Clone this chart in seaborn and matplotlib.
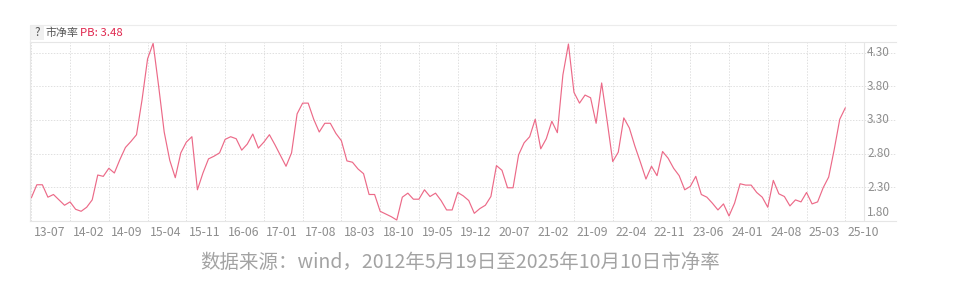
import numpy as np
import pandas as pd
import matplotlib
matplotlib.use("Agg")
import matplotlib.pyplot as plt
import matplotlib.transforms as mtransforms
from matplotlib.lines import Line2D
from matplotlib.patches import Rectangle
import seaborn as sns

# ---------------- data ----------------
start_month = "2013-07-01"
pb_values = [
    2.14, 2.335, 2.335, 2.15, 2.19, 2.11, 2.03, 2.08, 1.97, 1.94,
    2.00, 2.11, 2.48, 2.46, 2.58, 2.51, 2.71, 2.89, 2.98, 3.08,
    3.60, 4.21, 4.44, 3.80, 3.12, 2.70, 2.44, 2.81, 2.97, 3.05,
    2.26, 2.51, 2.72, 2.76, 2.81, 3.01, 3.05, 3.02, 2.85, 2.94,
    3.09, 2.88, 2.97, 3.08, 2.93, 2.77, 2.61, 2.81, 3.39, 3.55,
    3.55, 3.31, 3.12, 3.25, 3.25, 3.10, 2.99, 2.69, 2.67, 2.57,
    2.50, 2.19, 2.19, 1.94, 1.90, 1.86, 1.81, 2.15, 2.21, 2.12,
    2.12, 2.26, 2.16, 2.21, 2.10, 1.96, 1.96, 2.22, 2.17, 2.10,
    1.91, 1.98, 2.03, 2.16, 2.62, 2.55, 2.29, 2.29, 2.78, 2.96,
    3.05, 3.31, 2.87, 3.02, 3.28, 3.11, 3.97, 4.43, 3.71, 3.55,
    3.67, 3.63, 3.25, 3.85, 3.28, 2.68, 2.82, 3.33, 3.18, 2.91,
    2.67, 2.42, 2.61, 2.47, 2.83, 2.73, 2.58, 2.47, 2.26, 2.31,
    2.46, 2.19, 2.15, 2.06, 1.96, 2.05, 1.87, 2.06, 2.35, 2.33,
    2.33, 2.22, 2.15, 2.00, 2.40, 2.20, 2.16, 2.02, 2.11, 2.08,
    2.22, 2.05, 2.08, 2.29, 2.45, 2.86, 3.31, 3.48,
]
tick_every_months = 7
y_ticks = [1.80, 2.30, 2.80, 3.30, 3.80, 4.30]
header_name = "市净率"
header_value = "PB: 3.48"
caption = "数据来源：wind，2012年5月19日至2025年10月10日市净率"

dates = pd.date_range(start_month, periods=len(pb_values), freq="MS")
df = pd.DataFrame({"idx": np.arange(len(pb_values)), "pb": pb_values, "date": dates})
tick_idx = list(range(0, len(pb_values), tick_every_months))
tick_labels = [dates[i].strftime("%y-%m") for i in tick_idx]

# ---------------- style ----------------
sns.set_theme(style="white")
plt.rcParams["font.family"] = ["Noto Sans CJK SC", "DejaVu Sans"]

W, H = 966, 300
fig = plt.figure(figsize=(W / 100, H / 100), dpi=100)

def fx(px):
    return px / W

def fy(py):
    return 1 - py / H

left_px, right_px, top_px, bot_px = 30, 896, 41.7, 221
ax = fig.add_axes([fx(left_px), fy(bot_px), fx(right_px - left_px), (bot_px - top_px) / H])

line_color = "#ec6a88"
sns.lineplot(data=df, x="idx", y="pb", ax=ax, color=line_color, linewidth=0.85)

# scales: month 0 at px 31.3, month 147 at px 845.3
ppm = (845.3 - 31.3) / (len(pb_values) - 1)
x0 = -(31.3 - left_px) / ppm
x1 = (len(pb_values) - 1) + (right_px - 845.3) / ppm
ax.set_xlim(x0, x1)
y_per_px = 0.5 / 33.5
ylo = 1.80 - (bot_px - 220.7) * y_per_px
yhi = 4.30 + (52.7 - top_px) * y_per_px
ax.set_ylim(ylo, yhi)

grid_color = "#e0e0e0"
ax.set_xticks(tick_idx)
ax.set_xticklabels(tick_labels)
ax.set_yticks(y_ticks)
ax.set_yticklabels([])
ax.grid(True, color=grid_color, linestyle=(0, (1.5, 1.5)), linewidth=0.7)
ax.tick_params(axis="both", length=0)
ax.tick_params(axis="x", pad=3.5, labelsize=8.8, labelcolor="#8e8e8e")
ax.set_xlabel("")
ax.set_ylabel("")

offset = mtransforms.ScaledTranslation(2.5 / 100, 0, fig.dpi_scale_trans)
for lab in ax.get_xticklabels():
    lab.set_horizontalalignment("left")
    lab.set_transform(lab.get_transform() + offset)

for s in ["top", "bottom", "left"]:
    ax.spines[s].set_color("#e6e6e6")
    ax.spines[s].set_linewidth(0.8)
ax.spines["right"].set_visible(False)

# separator between plot and y-labels
sep_x = (len(pb_values) - 1) + (864 - 845.3) / ppm
ax.axvline(sep_x, color="#e6e6e6", linewidth=0.8)

# y labels inside right band
ytrans = mtransforms.blended_transform_factory(ax.transAxes, ax.transData)
lab_x = (867 - left_px) / (right_px - left_px)
for v in y_ticks:
    if v == y_ticks[0]:
        ax.text(lab_x, v, f"{v:.2f}", transform=ytrans + mtransforms.ScaledTranslation(0, 1.5 / 100, fig.dpi_scale_trans),
                ha="left", va="bottom", fontsize=8.5, color="#8e8e8e")
    else:
        ax.text(lab_x, v, f"{v:.2f}", transform=ytrans, ha="left", va="center",
                fontsize=8.5, color="#8e8e8e")

# header band
fig.add_artist(Line2D([fx(30), fx(896)], [fy(25), fy(25)], color="#ececec", linewidth=0.8))
fig.add_artist(Line2D([fx(30), fx(30)], [fy(25), fy(41.7)], color="#ececec", linewidth=0.8))
fig.add_artist(Rectangle((fx(31), fy(40)), fx(12.5), 14 / H, facecolor="#f0f0f0",
                         edgecolor="none"))
fig.text(fx(37.2), fy(33), "?", ha="center", va="center", fontsize=8.5, color="#555555")
fig.text(fx(45), fy(33), header_name, ha="left", va="center", fontsize=7.9, color="#555555")
fig.text(fx(80.5), fy(33), header_value, ha="left", va="center", fontsize=8.2, color="#e0284f")

# caption
fig.text(fx(460.5), fy(262), caption, ha="center", va="center", fontsize=14, color="#a3a3a3")

fig.savefig("out.png", dpi=100)
